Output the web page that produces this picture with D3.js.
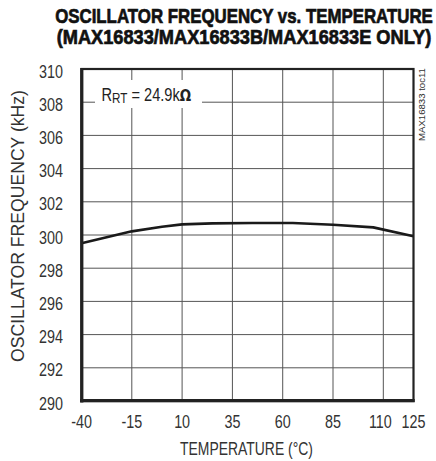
<!DOCTYPE html>
<html><head><meta charset="utf-8">
<script src="https://cdn.jsdelivr.net/npm/d3@7/dist/d3.min.js"></script>
<style>
html,body{margin:0;padding:0;background:#fff;}
svg{display:block;}
text{font-family:"Liberation Sans",Arial,sans-serif;fill:#222;}
</style></head>
<body>
<svg id="c" width="436" height="461"></svg>
<script>
const temps = [-40, -15, 0, 10, 25, 45, 65, 85, 105, 125];
const freqs = [299.5, 300.22, 300.5, 300.64, 300.7, 300.72, 300.72, 300.62, 300.46, 299.92];
const xTicks = [-40, -15, 10, 35, 60, 85, 110, 125];
const yTicks = [290, 292, 294, 296, 298, 300, 302, 304, 306, 308, 310];
const titleLines = ["OSCILLATOR FREQUENCY vs. TEMPERATURE", "(MAX16833/MAX16833B/MAX16833E ONLY)"];
const xTitle = "TEMPERATURE (°C)";
const yTitle = "OSCILLATOR FREQUENCY (kHz)";
const tocLabel = "MAX16833 toc11";

const svg = d3.select("#c");
const L = 81.5, R = 413.5, T = 69, B = 401;
const x = d3.scaleLinear().domain([-40, 125]).range([L, R]);
const y = d3.scaleLinear().domain([290, 310]).range([B, T]);

function place(tx, ty, rot) {
  return svg.append("g").attr("transform", `translate(${tx},${ty})` + (rot ? ` rotate(${rot})` : ""));
}
function squeeze(textSel, opt) {
  const w = textSel.node().getBBox().width;
  const k = opt.width ? opt.width / w : opt.k;
  textSel.attr("transform", `scale(${k},1)`);
}

// title
titleLines.forEach((t, i) => {
  const tx = place(244, i === 0 ? 23.3 : 43.5).append("text").attr("text-anchor", "middle")
    .attr("font-size", i === 0 ? 20.5 : 20).attr("font-weight", "bold").style("fill", "#111")
    .style("stroke", "#111").style("stroke-width", 0.7).text(t);
  squeeze(tx, {width: i === 0 ? 378 : 375});
});

// grid
const g = svg.append("g");
g.selectAll("line.v").data(xTicks.slice(1, -1)).join("line")
  .attr("x1", d => x(d)).attr("x2", d => x(d)).attr("y1", T).attr("y2", B)
  .attr("stroke", "#555").attr("stroke-width", 1);
g.selectAll("line.h").data(yTicks.slice(1, -1)).join("line")
  .attr("x1", L).attr("x2", R).attr("y1", d => y(d)).attr("y2", d => y(d))
  .attr("stroke", "#555").attr("stroke-width", 1);

// label box
svg.append("rect").attr("x", 95).attr("y", 80).attr("width", 107).attr("height", 28).attr("fill", "#fff");
const lab = place(101.5, 101).append("text").attr("font-size", 17.5);
lab.append("tspan").text("R");
lab.append("tspan").attr("font-size", 14).attr("dy", 1.7).text("RT");
lab.append("tspan").attr("dy", -1.7).text(" = 24.9k");
lab.append("tspan").attr("font-family", "DejaVu Sans, sans-serif").attr("font-weight", "bold").attr("font-size", 16).text("Ω");
squeeze(lab, {width: 90});

// curve
svg.append("path").datum(temps.map((t, i) => [t, freqs[i]]))
  .attr("d", d3.line().x(d => x(d[0])).y(d => y(d[1])))
  .attr("fill", "none").attr("stroke", "#1a1a1a").attr("stroke-width", 2.6).attr("stroke-linejoin", "round");

// frame
svg.append("rect").attr("x", L).attr("y", T).attr("width", R - L).attr("height", B - T)
  .attr("fill", "none").attr("stroke", "#222").attr("stroke-width", 2.2);
svg.append("line").attr("x1", L + 0.3).attr("x2", L + 0.3).attr("y1", T - 1).attr("y2", B + 1.5)
  .attr("stroke", "#222").attr("stroke-width", 3.2);
svg.append("line").attr("x1", L - 1.5).attr("x2", R + 1.2).attr("y1", B - 0.3).attr("y2", B - 0.3)
  .attr("stroke", "#222").attr("stroke-width", 3.2);

// y tick labels
yTicks.forEach(v => {
  const t = place(63, y(v) + 8.5).append("text").attr("text-anchor", "end").attr("font-size", 17.5)
    .style("fill", "#333").text(v);
  squeeze(t, {k: 0.82});
});
// x tick labels
xTicks.forEach(v => {
  const t = place(x(v) + (v === 110 ? -3 : 0), 428).append("text").attr("text-anchor", "middle")
    .attr("font-size", 17.5).style("fill", "#333").text(v < 0 ? "-" + Math.abs(v) : v);
  squeeze(t, {k: 0.82});
});

// axis titles
squeeze(place(246.5, 455).append("text").attr("text-anchor", "middle").attr("font-size", 17.5).style("fill", "#333").text(xTitle), {width: 133});
squeeze(place(23.5, 226, -90).append("text").attr("text-anchor", "middle").attr("font-size", 17.5).style("fill", "#333").text(yTitle), {width: 272});
squeeze(place(424.5, 141, -90).append("text").attr("font-size", 9.5).style("fill", "#333").text(tocLabel), {width: 73});
</script>
</body></html>
